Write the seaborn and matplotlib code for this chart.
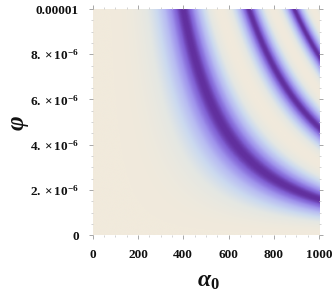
"""
Density plot of cos^2 over the (alpha0, phi) plane, Mathematica-like look.
Saves out.png (334x291).
"""

import numpy as np
import matplotlib
matplotlib.use("Agg")
import matplotlib.pyplot as plt
from matplotlib.ticker import MultipleLocator, FixedLocator
from matplotlib.colors import LinearSegmentedColormap
import seaborn as sns

# axis ranges and ticks
alpha_range = [0, 1000]
phi_range = [0, 1e-5]
alpha_ticks = [0, 200, 400, 600, 800, 1000]
phi_ticks = [0, 2e-6, 4e-6, 6e-6, 8e-6, 1e-5]
phi_tick_labels = ["0", r"$2.\times10^{-6}$", r"$4.\times10^{-6}$",
                   r"$6.\times10^{-6}$", r"$8.\times10^{-6}$", "0.00001"]

# dark bands sit where alpha0^2 * phi = pi/2 + n*pi (read: 1.58, 4.8, 7.85)
band_scale = 1.0
grid_n = 400

# colours from dark band core to the pale background
band_colors = ["#62309f", "#8060d4", "#9e92ec", "#b7bbf2", "#cbd9ef", "#e4e7e3", "#f1eadc"]
band_stops = [0.0, 0.05, 0.15, 0.3, 0.5, 0.72, 1.0]

sns.set_theme(style="white")
plt.rcParams["font.family"] = ["Liberation Serif", "DejaVu Serif"]
plt.rcParams["font.weight"] = "bold"
plt.rcParams["mathtext.fontset"] = "custom"
plt.rcParams["mathtext.rm"] = "Liberation Serif:bold"
plt.rcParams["mathtext.it"] = "Liberation Serif:italic:bold"
plt.rcParams["mathtext.bf"] = "Liberation Serif:bold"

cmap = LinearSegmentedColormap.from_list("bands", list(zip(band_stops, band_colors)))

a = np.linspace(alpha_range[0], alpha_range[1], grid_n)
p = np.linspace(phi_range[0], phi_range[1], grid_n)
A, P = np.meshgrid(a, p)
field = np.cos(band_scale * A ** 2 * P) ** 2

fig = plt.figure(figsize=(3.34, 2.91), dpi=100)
ax = fig.add_axes([0.278, 0.192, 0.677, 0.777])
ax.imshow(field, origin="lower", aspect="auto", cmap=cmap, vmin=0, vmax=1,
          extent=[alpha_range[0], alpha_range[1], phi_range[0], phi_range[1]],
          interpolation="bilinear")

for s in ax.spines.values():
    s.set_visible(False)

ax.set_xlim(alpha_range)
ax.set_ylim(phi_range)
ax.xaxis.set_major_locator(FixedLocator(alpha_ticks))
ax.xaxis.set_minor_locator(MultipleLocator(50))
ax.yaxis.set_major_locator(FixedLocator(phi_ticks))
ax.yaxis.set_minor_locator(MultipleLocator(5e-7))
ax.set_xticklabels([str(t) for t in alpha_ticks])
ax.set_yticklabels(phi_tick_labels)

ax.tick_params(which="both", direction="out", top=True, right=True,
               bottom=True, left=True, color="#999999", width=0.6)
ax.tick_params(which="major", length=3, pad=7, labelsize=9.5, labelcolor="#111111")
ax.tick_params(which="minor", length=1.5, color="#cccccc")
ax.tick_params(axis="x", which="both", labeltop=False)
ax.tick_params(axis="y", which="both", labelright=False)

fig.text(0.623, 0.031, r"$\alpha_0$", fontsize=17, ha="center", va="center", color="#111111")
fig.text(0.05, 0.58, "φ", fontsize=18, ha="center", va="center", rotation=90,
         style="italic", weight="bold", color="#111111")

fig.savefig("out.png", dpi=100)
